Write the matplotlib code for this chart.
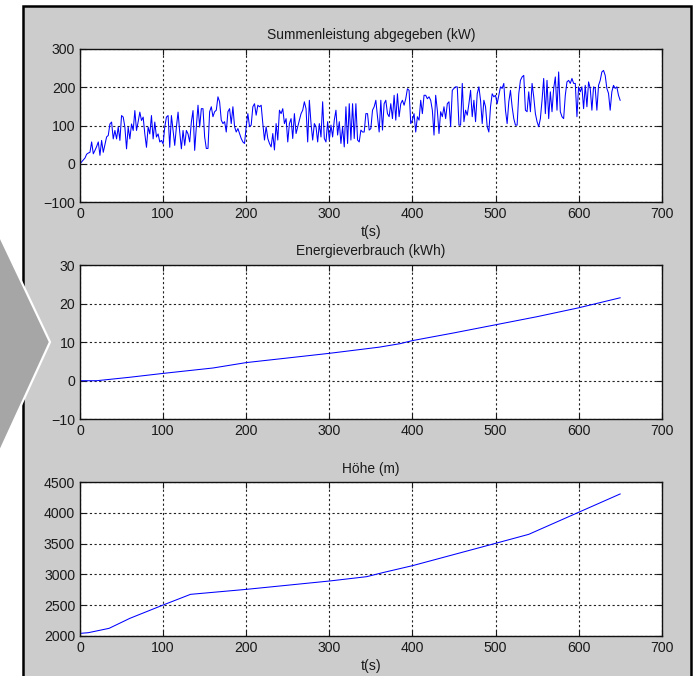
import numpy as np
import matplotlib
matplotlib.use("Agg")
import matplotlib.pyplot as plt
from matplotlib.patches import Rectangle, Polygon

plt.rcParams['font.family'] = ['Liberation Sans', 'DejaVu Sans']

# ---------------- data ----------------
power_kw = [
    0, 5, 10, 15, 25, 28, 30, 57, 26, 35,
    45, 57, 22, 61, 30, 50, 70, 74, 104, 109,
    65, 87, 65, 96, 61, 126, 122, 96, 39, 96,
    65, 104, 87, 139, 87, 110, 135, 113, 122, 78,
    43, 96, 78, 126, 65, 109, 70, 78, 57, 61,
    52, 96, 122, 126, 43, 126, 87, 48, 96, 135,
    83, 39, 87, 48, 87, 78, 57, 109, 139, 35,
    97, 153, 96, 144, 144, 70, 40, 40, 136, 149,
    123, 136, 140, 175, 162, 114, 105, 110, 83, 136,
    144, 105, 149, 97, 83, 92, 79, 66, 57, 53,
    97, 131, 97, 101, 149, 157, 127, 153, 149, 153,
    105, 62, 97, 66, 53, 44, 79, 36, 105, 62,
    140, 131, 144, 105, 118, 57, 105, 118, 66, 131,
    79, 97, 114, 131, 140, 162, 144, 57, 166, 105,
    62, 105,
    97, 57, 105, 70, 162, 66, 57, 110, 62, 101,
    70, 114, 140, 75, 110, 53, 97, 44, 149, 53,
    157, 62, 157, 66, 157, 62, 57, 88, 83, 83,
    131, 131, 88, 92, 140, 149, 166, 123, 83, 166,
    88, 157, 166, 131, 123, 157, 118, 179, 114, 183,
    123, 157, 166, 153, 170, 196, 192, 105, 114, 131,
    83, 123, 114, 166, 131, 179, 179, 170, 175, 166,
    140, 75, 179, 140,
    79, 136, 123, 149, 118, 157, 162, 97, 192, 197,
    201, 201, 101, 101, 210, 110, 140, 127, 157, 192,
    123, 166, 110, 183, 201, 166, 105, 166, 149, 97,
    83, 149, 183, 175, 179, 157, 179, 201, 197, 210,
    140, 105, 162, 192, 149, 118, 101, 101, 183, 218,
    227, 231, 140, 136, 188, 136, 210, 175, 131, 110,
    97, 118, 166, 223, 131, 218, 118, 188, 136, 197,
    227, 140, 240,
    136, 123, 118, 179, 214, 218, 210, 223, 210, 210,
    123, 201, 188, 201, 144, 205, 149, 214, 197, 140,
    201, 197, 140, 205, 218, 240, 244, 231, 197, 184,
    140, 188, 205, 197, 201, 179, 166,
]
time_power_s = np.linspace(0, 650, len(power_kw))

energy_t = [0, 20, 60, 100, 160, 200, 250, 300, 360, 385, 400, 450, 500, 550, 600, 650]
energy_kwh = [0, 0, 0.9, 1.9, 3.3, 4.7, 5.9, 7.1, 8.7, 9.6, 10.4, 12.4, 14.5, 16.6, 18.9, 21.5]

height_t = [0, 10, 35, 60, 100, 133, 200, 300, 345, 365, 400, 500, 540, 600, 650]
height_m = [2038, 2049, 2120, 2283, 2500, 2674, 2755, 2891, 2962, 3030, 3141, 3505, 3652, 4011, 4310]

titles = ["Summenleistung abgegeben (kW)", "Energieverbrauch (kWh)", "Höhe (m)"]
x_ticks = [0, 100, 200, 300, 400, 500, 600, 700]
y_ticks = [[-100, 0, 100, 200, 300], [-10, 0, 10, 20, 30],
           [2000, 2500, 3000, 3500, 4000, 4500]]
y_lims = [(-100, 300), (-10, 30), (2000, 4500)]

# ---------------- figure ----------------
W, H = 693, 676
fig = plt.figure(figsize=(W / 100, H / 100), dpi=100, facecolor='white')

bg = fig.add_axes([0, 0, 1, 1], zorder=-5)
bg.set_xlim(0, W)
bg.set_ylim(H, 0)
bg.axis('off')
bg.add_patch(Rectangle((23, 5.5), 667.5, 690, facecolor='#cccccc',
                       edgecolor='black', linewidth=1.8))
bg.add_patch(Polygon([(-5, 226), (50, 342), (-5, 462)], closed=True,
                     facecolor='#a6a6a6', edgecolor='white', linewidth=1.6))

def frac_rect(left, top, right, bottom):
    return [left / W, (H - bottom) / H, (right - left) / W, (bottom - top) / H]

rects = [frac_rect(80, 49, 661.7, 202),
         frac_rect(80, 265, 661.7, 419.3),
         frac_rect(80, 482.3, 661.7, 635.7)]

series = [(time_power_s, power_kw), (energy_t, energy_kwh), (height_t, height_m)]

for i, (rect, (tx, ty)) in enumerate(zip(rects, series)):
    ax = fig.add_axes(rect)
    ax.set_facecolor('white')
    ax.plot(tx, ty, color='#0000ff', linewidth=0.75)
    ax.set_xlim(0, 700)
    ax.set_ylim(*y_lims[i])
    ax.set_xticks(x_ticks)
    ax.set_yticks(y_ticks[i])
    ax.grid(True, color='#222222', linestyle=(0, (2.0, 2.2)), linewidth=0.8)
    ax.tick_params(direction='in', length=4.5, width=0.8, top=True, right=True,
                   labelsize=10.2, colors='#1a1a1a', pad=3.5)
    for sp in ax.spines.values():
        sp.set_linewidth(1.0)
        sp.set_color('#111111')
    ax.set_title(titles[i], fontsize=9.9, color='#1a1a1a', pad=7)
    if i != 1:
        ax.set_xlabel('t(s)', fontsize=10.2, color='#1a1a1a', labelpad=3)

fig.savefig('out.png', dpi=100, facecolor='white')
